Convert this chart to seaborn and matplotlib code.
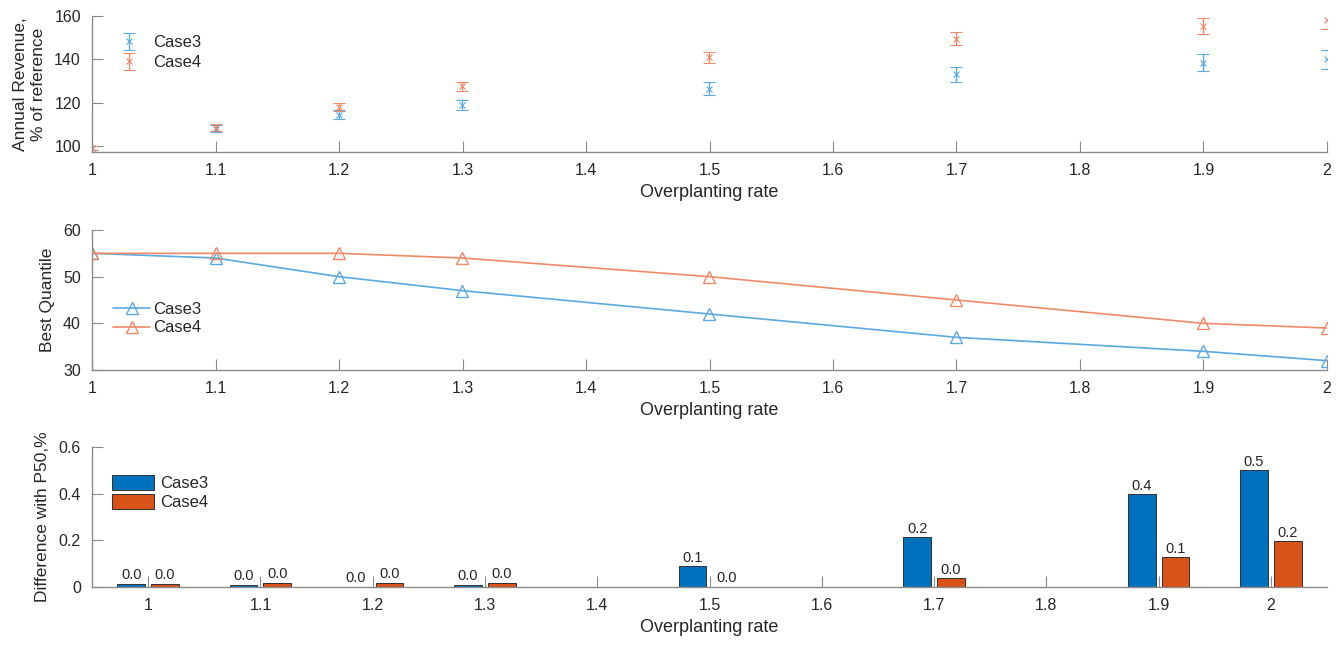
import numpy as np
import pandas as pd
import matplotlib
matplotlib.use('Agg')
import matplotlib.pyplot as plt
import seaborn as sns

# --- data ---
rates = [1.0, 1.1, 1.2, 1.3, 1.5, 1.7, 1.9, 2.0]

rev_case3 = [99.0, 108.0, 114.5, 119.0, 126.5, 133.0, 138.5, 140.0]
rev_case3_err = [1.0, 1.5, 2.0, 2.4, 3.0, 3.4, 3.8, 4.3]
rev_case4 = [99.0, 108.5, 118.0, 127.5, 141.0, 149.5, 155.5, 158.0]
rev_case4_err = [1.0, 1.5, 2.0, 2.1, 2.5, 3.1, 3.6, 3.9]

q_case3 = [55, 54, 50, 47, 42, 37, 34, 32]
q_case4 = [55, 55, 55, 54, 50, 45, 40, 39]

diff_case3 = [0.014, 0.010, 0.002, 0.010, 0.089, 0.214, 0.397, 0.500]
diff_case4 = [0.015, 0.018, 0.018, 0.018, 0.002, 0.039, 0.129, 0.196]

bar_ticks = ['1', '1.1', '1.2', '1.3', '1.4', '1.5', '1.6', '1.7', '1.8', '1.9', '2']
bar_cats = ['1', '1.1', '1.2', '1.3', '1.5', '1.7', '1.9', '2']

cases = ['Case3', 'Case4']
light = {'Case3': '#5aa9e0', 'Case4': '#ee8a67'}
dark = {'Case3': '#0072BD', 'Case4': '#D95319'}

sns.set_style('white')
plt.rcParams['font.family'] = ['Liberation Sans', 'DejaVu Sans']
txt = '#262626'
axcol = '#8a8a8a'

fig = plt.figure(figsize=(13.42, 6.46), dpi=100)
L, W = 92 / 1342, (1327 - 92) / 1342
ax1 = fig.add_axes([L, 1 - 152 / 646, W, 136 / 646])
ax2 = fig.add_axes([L, 1 - 370 / 646, W, 140 / 646])
ax3 = fig.add_axes([L, 1 - 587 / 646, W, 140 / 646])


def style(ax):
    for s in ['top', 'right']:
        ax.spines[s].set_visible(False)
    for s in ['left', 'bottom']:
        ax.spines[s].set_color(axcol)
        ax.spines[s].set_linewidth(1.0)
    ax.tick_params(bottom=True, left=True, direction='in', length=8, width=0.8,
                   color=axcol, labelcolor=txt, labelsize=11.5, pad=8)
    ax.set_xlabel('Overplanting rate', fontsize=13, color=txt, labelpad=4)


# --- top: annual revenue with error bars ---
ax1.errorbar(rates, rev_case3, yerr=rev_case3_err, fmt='x', color=light['Case3'],
             ms=4, mew=0.8, elinewidth=1.0, capsize=4, label='Case3')
ax1.errorbar(rates, rev_case4, yerr=rev_case4_err, fmt='x', color=light['Case4'],
             ms=4, mew=0.8, elinewidth=1.0, capsize=4, label='Case4')
ax1.set_xlim(1, 2)
ax1.set_ylim(97.2, 160)
ax1.set_xticks(np.arange(1, 2.01, 0.1))
ax1.set_xticklabels(bar_ticks)
ax1.set_yticks([100, 120, 140, 160])
ax1.set_ylabel('Annual Revenue,\n% of reference', fontsize=12.5, color=txt, labelpad=6)
style(ax1)
ax1.legend(loc='upper left', bbox_to_anchor=(0.01, 0.97), frameon=False,
           fontsize=12, handlelength=1.2, labelspacing=0.3, labelcolor=txt)

# --- middle: best quantile ---
for c, vals in zip(cases, [q_case3, q_case4]):
    sns.lineplot(x=rates, y=vals, ax=ax2, color=light[c], marker='^', ms=8,
                 markerfacecolor='none', markeredgecolor=light[c], mew=1.0,
                 linewidth=1.2, label=c)
ax2.set_xlim(1, 2)
ax2.set_ylim(30, 60)
ax2.set_xticks(np.arange(1, 2.01, 0.1))
ax2.set_xticklabels(bar_ticks)
ax2.set_yticks([30, 40, 50, 60])
ax2.set_ylabel('Best Quantile', fontsize=12.5, color=txt, labelpad=6)
style(ax2)
ax2.legend(loc='lower left', bbox_to_anchor=(0.005, 0.14), frameon=False,
           fontsize=12, handlelength=2.2, handletextpad=0.2, labelspacing=0.2,
           labelcolor=txt)

# --- bottom: difference with P50 ---
df = pd.DataFrame({
    'rate': bar_cats * 2,
    'case': ['Case3'] * len(bar_cats) + ['Case4'] * len(bar_cats),
    'diff': diff_case3 + diff_case4,
})
sns.barplot(data=df, x='rate', y='diff', hue='case', order=bar_ticks,
            hue_order=cases, palette=dark, saturation=1, width=0.6, gap=0.18,
            edgecolor='#303030', linewidth=0.7, ax=ax3)
for cont in ax3.containers:
    ax3.bar_label(cont, fmt='%.1f', padding=1, fontsize=10.5, color=txt)
ax3.set_xlim(-0.5, 10.5)
ax3.set_ylim(0, 0.6)
ax3.set_yticks([0, 0.2, 0.4, 0.6])
ax3.set_yticklabels(['0', '0.2', '0.4', '0.6'])
style(ax3)
ax3.set_ylabel('Difference with P50,%', fontsize=12.5, color=txt, labelpad=6)
ax3.legend(loc='upper left', bbox_to_anchor=(0.004, 0.91), frameon=False,
           fontsize=12, handlelength=2.5, handleheight=1.0, labelspacing=0.2,
           handletextpad=0.4, labelcolor=txt)

fig.savefig('out.png', dpi=100)
